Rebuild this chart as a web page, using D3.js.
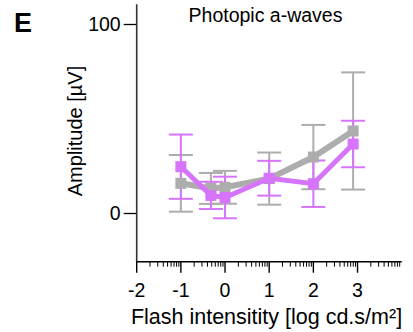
<!DOCTYPE html>
<html><head><meta charset="utf-8">
<script src="https://cdn.jsdelivr.net/npm/d3@7"></script>
<style>body{margin:0;background:#fff}svg{display:block}text{font-family:"Liberation Sans",Arial,sans-serif;fill:#000}</style>
</head><body><div id="c"></div>
<script>
const logIntensity = [-1, -0.32, 0, 1, 2, 2.9];
const grayMean = [15.7, 13.0, 13.6, 18.2, 29.6, 43.4];
const graySd   = [15.0, 8.2, 8.7, 13.8, 17.0, 31.0];
const purpleMean = [24.5, 9.3, 8.2, 18.4, 15.5, 36.5];
const purpleSd   = [17.0, 7.2, 11.0, 9.2, 12.3, 12.3];
const xTickLabels = ["-2", "-1", "0", "1", "2", "3"];
const yTicks = [0, 100];

const W = 413, H = 332;
const svg = d3.select("#c").append("svg").attr("width", W).attr("height", H);
const x = d3.scaleLog().domain([1e-2, 1e4]).range([136.7, 401.7]);
const y = d3.scaleLinear().domain([0, 100]).range([213, 24]);

// y axis
const yAxis = d3.axisLeft(y).tickValues(yTicks).tickSize(13).tickPadding(3).tickFormat(d3.format("d"));
const gy = svg.append("g").attr("transform", "translate(136.7,0)").call(yAxis);
gy.select(".domain").remove();
gy.append("line").attr("x1", 0).attr("x2", 0).attr("y1", y(110.5)).attr("y2", 262).attr("stroke", "#333").attr("stroke-width", 1.6);
gy.selectAll(".tick line").attr("stroke", "#000").attr("stroke-width", 1.3);
gy.selectAll(".tick text").style("font-size", "19.5px").attr("fill", "#000").attr("dy", "0.34em");

// x axis (log, with minor ticks)
const majors = d3.range(-2, 4).map(e => Math.pow(10, e));
const minors = [];
for (let e = -2; e < 4; e++) for (let m = 2; m <= 9; m++) minors.push(m * Math.pow(10, e));
const gx = svg.append("g").attr("transform", "translate(0,261.7)");
gx.append("line").attr("x1", x(1e-2)).attr("x2", x(1e4)).attr("stroke", "#000").attr("stroke-width", 1.6);
gx.selectAll(".minor").data(minors).join("line").attr("class", "minor")
  .attr("x1", d => x(d)).attr("x2", d => x(d)).attr("y1", 0).attr("y2", 5).attr("stroke", "#000").attr("stroke-width", 1);
gx.selectAll(".major").data(majors).join("line").attr("class", "major")
  .attr("x1", d => x(d)).attr("x2", d => x(d)).attr("y1", 0).attr("y2", 11).attr("stroke", "#000").attr("stroke-width", 1.4);
gx.selectAll(".lbl").data(majors).join("text").attr("class", "lbl")
  .attr("x", d => x(d)).attr("y", 35).attr("text-anchor", "middle").style("font-size", "19.5px")
  .text((d, i) => xTickLabels[i]);

function series(mean, sd, color) {
  const pts = logIntensity.map((l, i) => ({ v: Math.pow(10, l), m: mean[i], s: sd[i] }));
  const g = svg.append("g");
  g.selectAll(".eb").data(pts).join("line")
    .attr("x1", d => x(d.v)).attr("x2", d => x(d.v)).attr("y1", d => y(d.m + d.s)).attr("y2", d => y(d.m - d.s))
    .attr("stroke", color).attr("stroke-width", 2);
  [1, -1].forEach(sg => {
    g.selectAll(".cap" + sg).data(pts).join("line")
      .attr("x1", d => x(d.v) - 12).attr("x2", d => x(d.v) + 12)
      .attr("y1", d => y(d.m + sg * d.s)).attr("y2", d => y(d.m + sg * d.s))
      .attr("stroke", color).attr("stroke-width", 2);
  });
  return { g, pts };
}
const gs = series(grayMean, graySd, "#adadad");
const ps = series(purpleMean, purpleSd, "#d674fb");
const line = d3.line().x(d => x(d.v)).y(d => y(d.m));
function drawLine(s, color, lw, size) {
  svg.append("path").datum(s.pts).attr("d", line).attr("fill", "none").attr("stroke", color).attr("stroke-width", lw).attr("stroke-linejoin", "miter");
  svg.append("g").selectAll("rect").data(s.pts).join("rect")
    .attr("x", d => x(d.v) - size / 2).attr("y", d => y(d.m) - size / 2).attr("width", size).attr("height", size).attr("fill", color);
}
drawLine(gs, "#adadad", 6, 11);
drawLine(ps, "#d674fb", 5, 11);

// texts
svg.append("text").attr("x", 14).attr("y", 32).style("font-size", "27px").style("font-weight", "bold").attr("fill", "#222").text("E");
svg.append("text").attr("x", 265.5).attr("y", 22).attr("text-anchor", "middle").style("font-size", "19.5px").text("Photopic a-waves");
svg.append("text").attr("transform", "translate(82,131) rotate(-90)").attr("text-anchor", "middle").style("font-size", "20px").text("Amplitude [µV]");
svg.append("text").attr("x", 266.5).attr("y", 324).attr("text-anchor", "middle").style("font-size", "21.5px").text("Flash intensitity [log cd.s/m²]");
</script></body></html>
